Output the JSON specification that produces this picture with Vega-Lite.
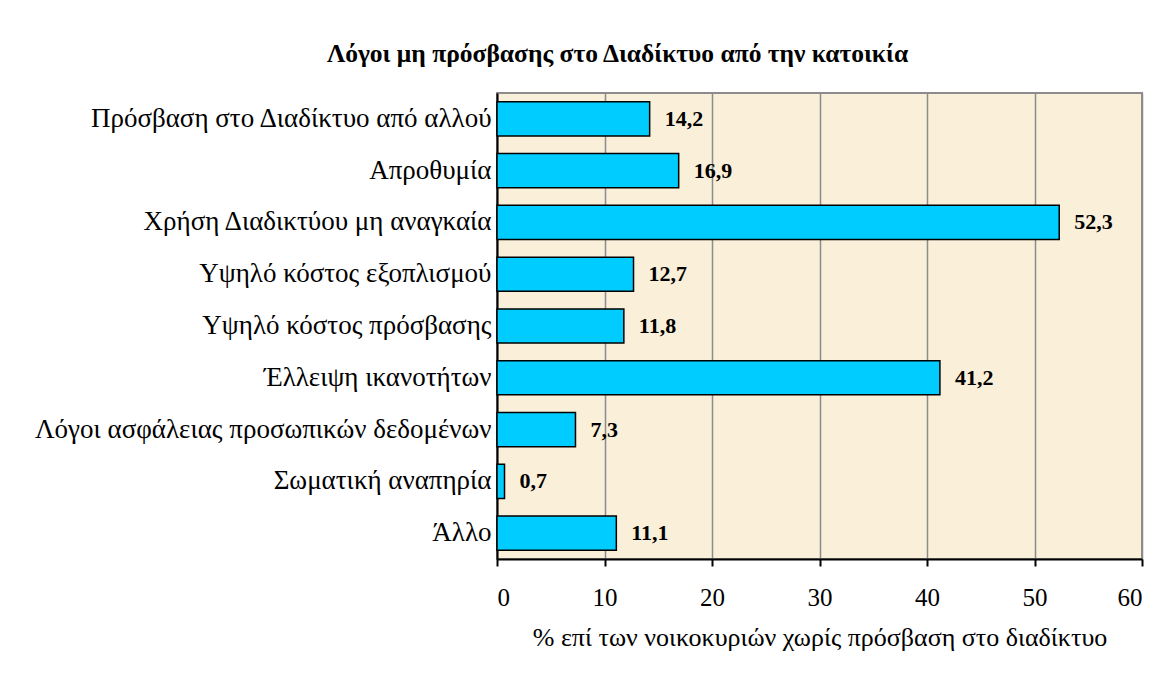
{
  "$schema": "https://vega.github.io/schema/vega-lite/v6.json",
  "width": 645,
  "height": 466,
  "autosize": {"type": "none"},
  "padding": {"left": 497, "top": 93, "right": 32, "bottom": 129},
  "background": "#ffffff",
  "title": {
    "text": "Λόγοι μη πρόσβασης στο Διαδίκτυο από την κατοικία",
    "font": "Liberation Serif",
    "fontSize": 25.5,
    "fontWeight": "bold",
    "color": "#000000",
    "anchor": "middle",
    "frame": "group",
    "dx": -202,
    "offset": 26
  },
  "config": {
    "locale": {"number": {"decimal": ",", "thousands": ".", "grouping": [3], "currency": ["", " €"]}},
    "view": {"fill": "#FAEFD9", "stroke": "#8c8c8c", "strokeWidth": 2}
  },
  "data": {
    "values": [
      {"reason": "Πρόσβαση στο Διαδίκτυο από αλλού", "pct": 14.2},
      {"reason": "Απροθυμία", "pct": 16.9},
      {"reason": "Χρήση Διαδικτύου μη αναγκαία", "pct": 52.3},
      {"reason": "Υψηλό κόστος εξοπλισμού", "pct": 12.7},
      {"reason": "Υψηλό κόστος πρόσβασης", "pct": 11.8},
      {"reason": "Έλλειψη ικανοτήτων", "pct": 41.2},
      {"reason": "Λόγοι ασφάλειας προσωπικών δεδομένων", "pct": 7.3},
      {"reason": "Σωματική αναπηρία", "pct": 0.7},
      {"reason": "Άλλο", "pct": 11.1}
    ]
  },
  "encoding": {
    "y": {
      "field": "reason",
      "type": "nominal",
      "sort": null,
      "scale": {"paddingInner": 0.34, "paddingOuter": 0.17},
      "axis": {
        "title": null,
        "ticks": false,
        "domain": true,
        "domainColor": "#000000",
        "domainWidth": 2,
        "labelFont": "Liberation Serif",
        "labelFontSize": 27,
        "labelColor": "#000000",
        "labelPadding": 6,
        "labelLimit": 600
      }
    },
    "x": {
      "field": "pct",
      "type": "quantitative",
      "scale": {"domain": [0, 60], "nice": false},
      "axis": {
        "title": "% επί των νοικοκυριών χωρίς πρόσβαση στο διαδίκτυο",
        "titleFont": "Liberation Serif",
        "titleFontSize": 26,
        "titleFontWeight": "normal",
        "titleColor": "#000000",
        "titlePadding": 14,
        "values": [0, 10, 20, 30, 40, 50, 60],
        "format": "d",
        "domainColor": "#000000",
        "domainWidth": 2,
        "tickColor": "#000000",
        "tickWidth": 2,
        "tickSize": 7,
        "labelFont": "Liberation Serif",
        "labelFontSize": 25,
        "labelColor": "#000000",
        "labelPadding": 19,
        "grid": true,
        "gridColor": "#8c8c8c",
        "gridWidth": 1.5
      }
    }
  },
  "layer": [
    {
      "mark": {"type": "bar", "fill": "#00CCFF", "stroke": "#000000", "strokeWidth": 1.5}
    },
    {
      "mark": {"type": "text", "align": "left", "baseline": "middle", "dx": 15, "font": "Liberation Serif", "fontSize": 22, "fontWeight": "bold", "color": "#000000"},
      "encoding": {
        "text": {"field": "pct", "type": "quantitative", "format": ".1f"}
      }
    }
  ]
}
